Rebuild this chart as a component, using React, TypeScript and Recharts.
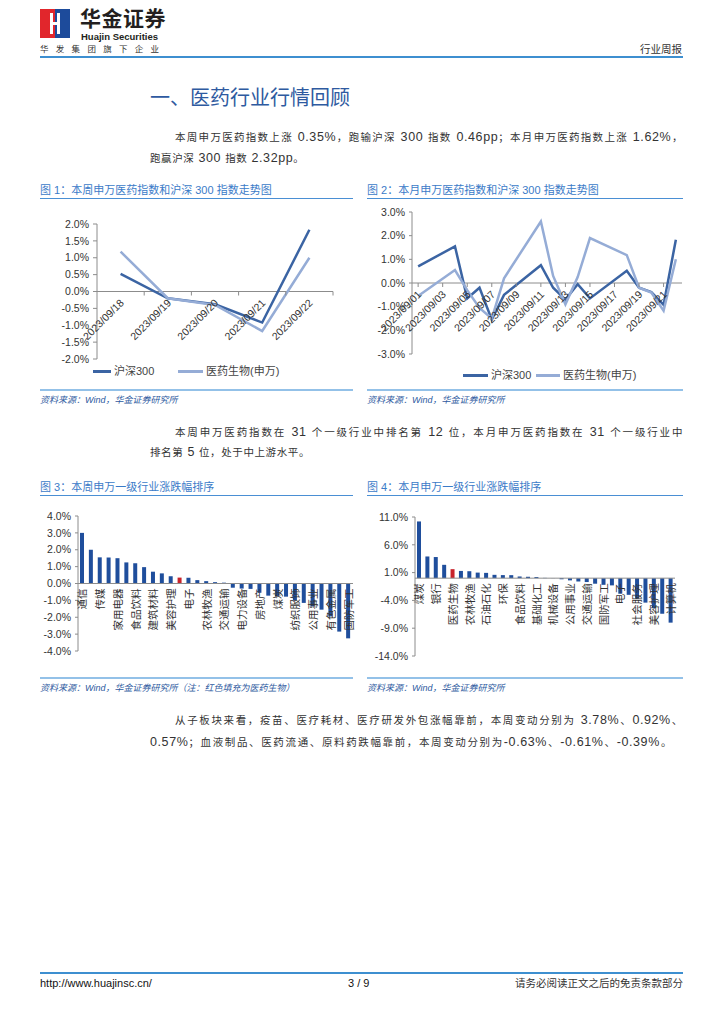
import React from 'react';
import { LineChart, Line, BarChart, Bar, Cell, XAxis, YAxis, ReferenceLine } from 'recharts';

// 图1：本周（日涨跌幅，%）
const weekDates = ['2023/09/18', '2023/09/19', '2023/09/20', '2023/09/21', '2023/09/22'];
const weekHs300 = [0.52, -0.2, -0.38, -0.92, 1.83];
const weekPharma = [1.18, -0.2, -0.4, -1.17, 1.0];

// 图2：本月（9月交易日）
const monthDays = [1, 4, 5, 6, 7, 8, 11, 12, 13, 14, 15, 18, 19, 20, 21, 22];
const monthHs300 = [0.7, 1.55, -0.65, -0.2, -1.55, -0.5, 0.75, -0.2, -0.7, -0.05, -0.65, 0.52, -0.2, -0.38, -0.92, 1.83];
const monthPharma = [-0.55, 0.55, -0.3, -1.05, -1.5, 0.2, 2.6, 0.3, -0.9, 0.25, 1.9, 1.18, -0.2, -0.4, -1.17, 1.0];
const monthTickDays = [1, 3, 5, 7, 9, 11, 13, 15, 17, 19, 21];

// 图3：本周申万一级行业涨跌幅
const weekIndustries = [
  '通信', '计算机', '传媒', '汽车', '家用电器', '轻工制造', '食品饮料', '商贸零售',
  '建筑材料', '社会服务', '美容护理', '医药生物', '电子', '环保', '农林牧渔', '机械设备',
  '交通运输', '综合', '电力设备', '建筑装饰', '房地产', '非银金融', '煤炭', '钢铁',
  '纺织服饰', '基础化工', '公用事业', '银行', '有色金属', '石油石化', '国防军工',
];
const weekChanges = [
  3.0, 2.0, 1.55, 1.54, 1.5, 1.25, 1.2, 0.97, 0.7, 0.6, 0.43, 0.35, 0.34, 0.2, 0.14, 0.08,
  0.05, -0.25, -0.3, -0.32, -0.55, -0.72, -0.75, -0.78, -1.0, -1.15, -1.35, -1.55, -1.95, -2.85, -3.25,
];

// 图4：本月申万一级行业涨跌幅
const monthIndustries = [
  '煤炭', '非银金融', '银行', '建筑装饰', '医药生物', '钢铁', '农林牧渔', '综合',
  '石油石化', '有色金属', '环保', '家用电器', '食品饮料', '纺织服饰', '基础化工', '轻工制造',
  '机械设备', '汽车', '公用事业', '建筑材料', '交通运输', '商贸零售', '国防军工', '房地产',
  '电子', '通信', '社会服务', '电力设备', '美容护理', '传媒', '计算机',
];
const monthChanges = [
  10.2, 3.9, 3.8, 2.4, 1.62, 1.3, 1.25, 1.0, 0.95, 0.6, 0.55, 0.54, 0.3, 0.25, 0.2, 0.05,
  0.02, -0.2, -0.4, -0.6, -0.7, -1.0, -1.2, -1.3, -2.8, -3.0, -3.7, -4.4, -5.4, -6.4, -8.0,
];

const FONT = "'Liberation Sans', 'Noto Sans CJK SC', sans-serif";
const DARK = '#3b64a3';
const LIGHT = '#95acd6';
const BAR = '#1f4e9c';
const RED = '#c8232b';
const AXIS = '#8c8c8c';
const BLUE_TEXT = '#2e5aa0';

const pct = (v: number) => `${v.toFixed(1)}%`;

const weekData = weekDates.map((d, i) => ({ idx: i, hs300: weekHs300[i], pharma: weekPharma[i] }));
const monthData = monthDays.map((d, i) => ({ day: d, hs300: monthHs300[i], pharma: monthPharma[i] }));
const weekBars = weekIndustries.map((n, i) => ({ name: n, value: weekChanges[i] }));
const monthBars = monthIndustries.map((n, i) => ({ name: n, value: monthChanges[i] }));

// 日期标签画在零轴下方（Excel 的效果）
const DateTick = (props: any) => {
  const { x, y, payload, shift, mark, label } = props;
  const zy = y - shift;
  return (
    <g>
      <line x1={x + mark} x2={x + mark} y1={zy} y2={zy + 4} stroke={AXIS} />
      <text
        transform={`translate(${x + 4},${zy + 12}) rotate(-45)`}
        textAnchor="end"
        fontSize={10.5}
        fill="#333"
        fontFamily={FONT}
      >
        {label(payload.value)}
      </text>
    </g>
  );
};

const NameTick = (props: any) => {
  const { x, y, payload, shift, index } = props;
  if (index % 2 === 1) return <g />;
  const zy = y - shift;
  return (
    <text
      transform={`translate(${x},${zy + 5}) rotate(-90)`}
      textAnchor="end"
      dominantBaseline="central"
      fontSize={10.5}
      fill="#333"
      fontFamily={FONT}
    >
      {payload.value}
    </text>
  );
};

const yTick = { fontSize: 10.5, fill: '#333', fontFamily: FONT };

const abs = (left: number, top: number, extra: React.CSSProperties = {}): React.CSSProperties => ({
  position: 'absolute',
  left,
  top,
  whiteSpace: 'nowrap',
  ...extra,
});

// 中文小一点，数字用大一点的 Arial 风格
const Mixed = ({ text }: { text: string }) => (
  <>
    {text.split(/([\x20-\x7e]+)/).map((s, i) =>
      /[\x20-\x7e]/.test(s) ? (
        <span key={i} style={{ fontSize: 12.5 }}>
          {s}
        </span>
      ) : (
        <span key={i}>{s}</span>
      )
    )}
  </>
);

const Caption = ({ left, top, width, text }: { left: number; top: number; width: number; text: string }) => (
  <>
    <div style={abs(left, top, { fontSize: 11, color: '#3b7bc8', lineHeight: '14px' })}>{text}</div>
    <div style={abs(left, top + 15, { width, height: 1, background: '#4a8fd4' })} />
  </>
);

const Source = ({ left, top, width, text }: { left: number; top: number; width: number; text: string }) => (
  <>
    <div style={abs(left, top, { width, height: 2, background: '#93c1e8' })} />
    <div style={abs(left, top + 5, { fontSize: 9, color: BLUE_TEXT, fontStyle: 'italic', lineHeight: '12px' })}>{text}</div>
  </>
);

const LegendRow = ({ items }: { items: { x: number; w: number; color: string; text: string }[] }) => (
  <>
    {items.map((it) => (
      <React.Fragment key={it.text}>
        <div style={abs(it.x, 0, { width: it.w, height: 3, background: it.color, top: -1.5 })} />
        <div style={abs(it.x + it.w + 3, -7, { fontSize: 11, color: '#444', lineHeight: '14px' })}>{it.text}</div>
      </React.Fragment>
    ))}
  </>
);

const body: React.CSSProperties = { fontSize: 10.5, color: '#333', lineHeight: '16px', letterSpacing: 0.6 };
const justified: React.CSSProperties = { textAlign: 'justify', textAlignLast: 'justify', whiteSpace: 'normal' };

const TextLine = ({ left, top, width, text }: { left: number; top: number; width?: number; text: string }) => (
  <div style={abs(left, top, width ? { ...body, ...justified, width } : body)}>
    <Mixed text={text} />
  </div>
);

export default function App() {
  return (
    <div style={{ position: 'relative', width: 724, height: 1024, background: '#fff', fontFamily: FONT, overflow: 'hidden' }}>
      <style>{'body{margin:0}'}</style>

      {/* 页眉 */}
      <svg style={abs(40, 9)} width={30} height={29}>
        <rect x={0} y={0} width={15} height={29} fill="#e1262c" />
        <rect x={15} y={0} width={15} height={29} fill="#1d4b9b" />
        <rect x={10} y={4} width={3} height={21} fill="#fff" />
        <rect x={17} y={4} width={3} height={21} fill="#fff" />
        <rect x={13} y={13} width={4} height={3} fill="#fff" />
      </svg>
      <div style={abs(80, 6, { fontSize: 21, fontWeight: 700, color: '#231f20', lineHeight: '26px', letterSpacing: 0.5 })}>华金证券</div>
      <div style={abs(81, 31, { fontSize: 9.5, fontWeight: 700, color: '#231f20', lineHeight: '11px' })}>Huajin Securities</div>
      <div style={abs(40, 44, { fontSize: 8.5, color: '#333', lineHeight: '10px', letterSpacing: 7.3 })}>华发集团旗下企业</div>
      <div style={abs(640, 43, { fontSize: 10.5, color: '#333', lineHeight: '12px' })}>行业周报</div>
      <div style={abs(40, 56, { width: 643, height: 2, background: '#3d8fd0' })} />

      {/* 标题与正文 */}
      <div style={abs(150, 85, { fontSize: 20, color: BLUE_TEXT, lineHeight: '26px' })}>一、医药行业行情回顾</div>
      <TextLine left={175} top={129} width={508} text="本周申万医药指数上涨 0.35%，跑输沪深 300 指数 0.46pp；本月申万医药指数上涨 1.62%，" />
      <TextLine left={150} top={150} text="跑赢沪深 300 指数 2.32pp。" />

      {/* 图1 */}
      <Caption left={40} top={183} width={313} text="图 1：本周申万医药指数和沪深 300 指数走势图" />
      <div style={abs(40, 200)}>
        <LineChart width={313} height={168} data={weekData} margin={{ top: 24, right: 20, bottom: 8, left: 0 }}>
          <XAxis
            dataKey="idx"
            type="number"
            domain={[-0.5, 4.5]}
            ticks={[0, 1, 2, 3, 4]}
            height={1}
            axisLine={false}
            tickLine={false}
            tickSize={0}
            tickMargin={0}
            interval={0}
            tick={(p: any) => <DateTick {...p} shift={67.5} mark={23.6} label={(v: number) => weekDates[v]} />}
          />
          <YAxis
            width={57}
            domain={[-2, 2]}
            ticks={[-2, -1.5, -1, -0.5, 0, 0.5, 1, 1.5, 2]}
            interval={0}
            tickFormatter={pct}
            stroke={AXIS}
            tickSize={4}
            tickMargin={4}
            tick={yTick}
          />
          <ReferenceLine y={0} stroke={AXIS} />
          <Line dataKey="hs300" stroke={DARK} strokeWidth={2.5} dot={false} isAnimationActive={false} />
          <Line dataKey="pharma" stroke={LIGHT} strokeWidth={2.5} dot={false} isAnimationActive={false} />
        </LineChart>
      </div>
      <div style={abs(0, 371)}>
        <LegendRow
          items={[
            { x: 93, w: 18, color: DARK, text: '沪深300' },
            { x: 178, w: 25, color: LIGHT, text: '医药生物(申万)' },
          ]}
        />
      </div>
      <Source left={40} top={389} width={313} text="资料来源：Wind，华金证券研究所" />

      {/* 图2 */}
      <Caption left={367} top={183} width={316} text="图 2：本月申万医药指数和沪深 300 指数走势图" />
      <div style={abs(360, 200)}>
        <LineChart width={330} height={163} data={monthData} margin={{ top: 12, right: 8, bottom: 8, left: 0 }}>
          <XAxis
            dataKey="day"
            type="number"
            domain={[0.5, 22.5]}
            ticks={monthTickDays}
            height={1}
            axisLine={false}
            tickLine={false}
            tickSize={0}
            tickMargin={0}
            interval={0}
            tick={(p: any) => (
              <DateTick {...p} shift={71} mark={0} label={(v: number) => `2023/09/${String(v).padStart(2, '0')}`} />
            )}
          />
          <YAxis
            width={52}
            domain={[-3, 3]}
            ticks={[-3, -2, -1, 0, 1, 2, 3]}
            interval={0}
            tickFormatter={pct}
            stroke={AXIS}
            tickSize={3}
            tickMargin={4}
            tick={yTick}
          />
          <ReferenceLine y={0} stroke={AXIS} />
          <Line dataKey="hs300" stroke={DARK} strokeWidth={2.5} dot={false} isAnimationActive={false} />
          <Line dataKey="pharma" stroke={LIGHT} strokeWidth={2.5} dot={false} isAnimationActive={false} />
        </LineChart>
      </div>
      <div style={abs(0, 375)}>
        <LegendRow
          items={[
            { x: 463, w: 25, color: DARK, text: '沪深300' },
            { x: 536, w: 24, color: LIGHT, text: '医药生物(申万)' },
          ]}
        />
      </div>
      <Source left={367} top={389} width={316} text="资料来源：Wind，华金证券研究所" />

      <TextLine left={175} top={424} width={508} text="本周申万医药指数在 31 个一级行业中排名第 12 位，本月申万医药指数在 31 个一级行业中" />
      <TextLine left={150} top={444} text="排名第 5 位，处于中上游水平。" />

      {/* 图3 */}
      <Caption left={40} top={480} width={313} text="图 3：本周申万一级行业涨跌幅排序" />
      <div style={abs(40, 500)}>
        <BarChart width={318} height={160} data={weekBars} margin={{ top: 16, right: 5, bottom: 8, left: 0 }}>
          <XAxis
            dataKey="name"
            height={1}
            axisLine={false}
            tickLine={false}
            tickSize={0}
            tickMargin={0}
            interval={0}
            tick={(p: any) => <NameTick {...p} shift={67.5} />}
          />
          <YAxis
            width={38}
            domain={[-4, 4]}
            ticks={[-4, -3, -2, -1, 0, 1, 2, 3, 4]}
            interval={0}
            tickFormatter={pct}
            stroke={AXIS}
            tickSize={3}
            tickMargin={4}
            tick={yTick}
          />
          <ReferenceLine y={0} stroke={AXIS} />
          <Bar dataKey="value" barSize={4} isAnimationActive={false}>
            {weekBars.map((b) => (
              <Cell key={b.name} fill={b.name === '医药生物' ? RED : BAR} />
            ))}
          </Bar>
        </BarChart>
      </div>
      <Source left={40} top={677} width={313} text="资料来源：Wind，华金证券研究所（注：红色填充为医药生物）" />

      {/* 图4 */}
      <Caption left={367} top={480} width={316} text="图 4：本月申万一级行业涨跌幅排序" />
      <div style={abs(360, 500)}>
        <BarChart width={328} height={165} data={monthBars} margin={{ top: 17, right: 13, bottom: 8, left: 0 }}>
          <XAxis
            dataKey="name"
            height={1}
            axisLine={false}
            tickLine={false}
            tickSize={0}
            tickMargin={0}
            interval={0}
            tick={(p: any) => <NameTick {...p} shift={77.84} />}
          />
          <YAxis
            width={55}
            domain={[-14, 11]}
            ticks={[-14, -9, -4, 1, 6, 11]}
            interval={0}
            tickFormatter={pct}
            stroke={AXIS}
            tickSize={3}
            tickMargin={4}
            tick={yTick}
          />
          <ReferenceLine y={0} stroke={AXIS} />
          <Bar dataKey="value" barSize={4} isAnimationActive={false}>
            {monthBars.map((b) => (
              <Cell key={b.name} fill={b.name === '医药生物' ? RED : BAR} />
            ))}
          </Bar>
        </BarChart>
      </div>
      <Source left={367} top={677} width={316} text="资料来源：Wind，华金证券研究所" />

      <TextLine left={175} top={712} width={508} text="从子板块来看，疫苗、医疗耗材、医疗研发外包涨幅靠前，本周变动分别为 3.78%、0.92%、" />
      <TextLine left={150} top={734} width={522} text="0.57%；血液制品、医药流通、原料药跌幅靠前，本周变动分别为-0.63%、-0.61%、-0.39%。" />

      {/* 页脚 */}
      <div style={abs(40, 972, { width: 643, height: 2, background: '#3d8fd0' })} />
      <div style={abs(40, 977, { fontSize: 11, color: '#111', lineHeight: '13px' })}>http://www.huajinsc.cn/</div>
      <div style={abs(348, 977, { fontSize: 11, color: '#111', lineHeight: '13px' })}>3 / 9</div>
      <div style={abs(510, 977, { fontSize: 10.5, color: '#333', lineHeight: '13px', width: 173, textAlign: 'right' })}>
        请务必阅读正文之后的免责条款部分
      </div>
    </div>
  );
}
